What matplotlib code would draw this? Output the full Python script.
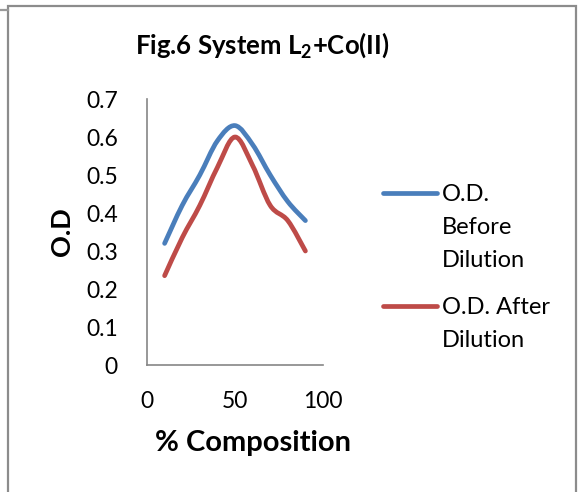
import matplotlib.pyplot as plt
from matplotlib.path import Path
from matplotlib.patches import PathPatch, Rectangle
from matplotlib.lines import Line2D

# Data
composition = [10, 20, 30, 40, 50, 60, 70, 80, 90]
od_before = [0.32, 0.42, 0.50, 0.59, 0.63, 0.58, 0.50, 0.43, 0.38]
od_after = [0.235, 0.335, 0.42, 0.52, 0.60, 0.525, 0.42, 0.38, 0.30]

series_labels = ["O.D.\nBefore\nDilution", "O.D. After\nDilution"]
series_colors = ["#4A7EBB", "#BE4B48"]

plt.rcParams['font.family'] = ['Lato', 'DejaVu Sans']
plt.rcParams['mathtext.fontset'] = 'custom'
plt.rcParams['mathtext.bf'] = 'Lato:bold'
plt.rcParams['mathtext.rm'] = 'Lato'


def smooth_path(xs, ys):
    # Excel-like smoothed line: cubic Bezier segments through every point
    pts = list(zip(xs, ys))
    verts = [pts[0]]
    codes = [Path.MOVETO]
    n = len(pts)
    for i in range(n - 1):
        p0 = pts[i - 1] if i > 0 else pts[i]
        p1 = pts[i]
        p2 = pts[i + 1]
        p3 = pts[i + 2] if i + 2 < n else pts[i + 1]
        c1 = (p1[0] + (p2[0] - p0[0]) / 6, p1[1] + (p2[1] - p0[1]) / 6)
        c2 = (p2[0] - (p3[0] - p1[0]) / 6, p2[1] - (p3[1] - p1[1]) / 6)
        verts += [c1, c2, p2]
        codes += [Path.CURVE4] * 3
    return Path(verts, codes)


fig = plt.figure(figsize=(5.8, 4.92), dpi=100)
ax = fig.add_axes([147 / 580, 1 - 365 / 492, (323 - 147) / 580, (365 - 99) / 492])

for ys, color in zip([od_before, od_after], series_colors):
    patch = PathPatch(smooth_path(composition, ys), facecolor='none', edgecolor=color,
                      lw=3.4, capstyle='round', joinstyle='round')
    ax.add_patch(patch)

ax.set_xlim(0, 100)
ax.set_ylim(0, 0.7)
ax.set_xticks([0, 50, 100])
ax.set_yticks([0, 0.1, 0.2, 0.3, 0.4, 0.5, 0.6, 0.7])
ax.set_yticklabels(['0', '0.1', '0.2', '0.3', '0.4', '0.5', '0.6', '0.7'])
ax.tick_params(axis='both', length=0, labelsize=16.5, colors='black')
ax.tick_params(axis='y', pad=21)
ax.tick_params(axis='x', pad=19)
for side in ['top', 'right']:
    ax.spines[side].set_visible(False)
for side in ['left', 'bottom']:
    ax.spines[side].set_color('#868686')
    ax.spines[side].set_linewidth(1.2)

fig.text(262 / 580, 1 - 45 / 492, "Fig.6 System L$_\\mathbf{2}$+Co(II)", ha='center', va='center',
         fontsize=18.5, fontweight='bold')
fig.text(253 / 580, 1 - 443 / 492, "% Composition", ha='center', va='center',
         fontsize=21, fontweight='bold')
fig.text(62 / 580, 1 - 232 / 492, "O.D", ha='center', va='center', rotation=90,
         fontsize=19.5, fontweight='bold')

# legend drawn to the right of the plot
legend_y = [193, 306]
for label, color, y in zip(series_labels, series_colors, legend_y):
    fig.add_artist(Line2D([383 / 580, 437 / 580], [1 - y / 492, 1 - y / 492], color=color,
                          lw=3.4, solid_capstyle='round'))
    fig.text(442 / 580, 1 - (y - 9) / 492, label, ha='left', va='top',
             fontsize=17, linespacing=1.72)

# outer frame of the chart area
fig.add_artist(Rectangle((7.5 / 580, -0.1), (575.5 - 7.5) / 580, 1.1 - 5.5 / 492,
                         transform=fig.transFigure, fill=False, edgecolor='#8C8C8C', lw=1.6))
fig.add_artist(Line2D([0, 7.5 / 580], [1 - 10 / 492, 1 - 10 / 492], color='#9A9A9A', lw=1.6))

fig.savefig('out.png', dpi=100)
